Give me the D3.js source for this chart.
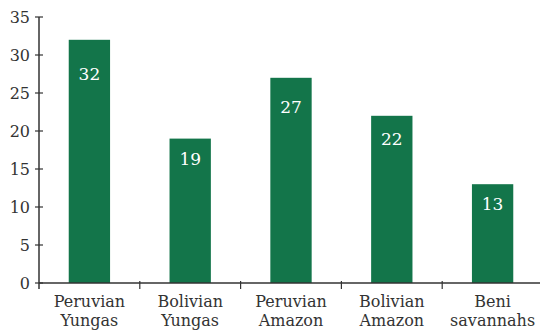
<!DOCTYPE html>
<html>
<head>
<meta charset="utf-8">
<script src="https://cdn.jsdelivr.net/npm/d3@7"></script>
<style>
  html, body { margin: 0; padding: 0; background: #fff; }
  svg { display: block; }
  text { font-family: "DejaVu Serif", serif; fill: #333; }
</style>
</head>
<body>
<svg id="chart" width="540" height="331"></svg>
<script>
// Data
const categories = [["Peruvian", "Yungas"], ["Bolivian", "Yungas"], ["Peruvian", "Amazon"], ["Bolivian", "Amazon"], ["Beni", "savannahs"]];
const values = [32, 19, 27, 22, 13];
const yTicks = [0, 5, 10, 15, 20, 25, 30, 35];

const chartW = 540, chartH = 331;
const plotLeft = 39, plotRight = 543, plotTop = 17, plotBottom = 283;
const barColor = "#13754a";
const axisColor = "#333";

const svg = d3.select("#chart");
const keys = categories.map(c => c.join(" "));

const x = d3.scaleBand().domain(keys).range([plotLeft, plotRight]).paddingInner(0).paddingOuter(0);
const y = d3.scaleLinear().domain([0, 35]).range([plotBottom, plotTop]);
const barW = x.bandwidth() * 0.41;

// Bars
svg.append("g").selectAll("rect")
  .data(values)
  .join("rect")
  .attr("x", (d, i) => x(keys[i]) + (x.bandwidth() - barW) / 2)
  .attr("y", d => y(d))
  .attr("width", barW)
  .attr("height", d => y(0) - y(d))
  .attr("fill", barColor);

// Value labels inside the bars, a little below each bar's top
svg.append("g").selectAll("text")
  .data(values)
  .join("text")
  .attr("x", (d, i) => x(keys[i]) + x.bandwidth() / 2)
  .attr("y", d => y(d) + Math.max(19.5, 0.14 * (y(0) - y(d))))
  .attr("dy", "0.36em")
  .attr("text-anchor", "middle")
  .style("fill", "#fff")
  .style("font-size", "17px")
  .text(d => d);

// Y axis: ticks cross the axis line
const yAxis = svg.append("g").attr("transform", `translate(${plotLeft},0)`);
yAxis.append("line")
  .attr("x1", 0).attr("x2", 0)
  .attr("y1", y(35)).attr("y2", y(0) + 6)
  .attr("stroke", axisColor).attr("stroke-width", 1.5);
yAxis.selectAll(".tick")
  .data(yTicks)
  .join("line")
  .attr("x1", -4).attr("x2", 4)
  .attr("y1", d => y(d)).attr("y2", d => y(d))
  .attr("stroke", axisColor).attr("stroke-width", 1.2);
yAxis.selectAll("text")
  .data(yTicks)
  .join("text")
  .attr("x", -9)
  .attr("y", d => y(d))
  .attr("dy", "0.36em")
  .attr("text-anchor", "end")
  .style("font-size", "16px")
  .text(d => d);

// X axis: baseline with tick marks between categories
const xAxis = svg.append("g").attr("transform", `translate(0,${y(0)})`);
xAxis.append("line")
  .attr("x1", plotLeft).attr("x2", chartW)
  .attr("y1", 0).attr("y2", 0)
  .attr("stroke", axisColor).attr("stroke-width", 1.5);
xAxis.selectAll(".sep")
  .data(keys.slice(1))
  .join("line")
  .attr("x1", d => x(d)).attr("x2", d => x(d))
  .attr("y1", -2).attr("y2", 6)
  .attr("stroke", axisColor).attr("stroke-width", 1.2);

const labels = xAxis.selectAll(".cat")
  .data(categories)
  .join("text")
  .attr("text-anchor", "middle")
  .attr("x", (d, i) => x(keys[i]) + x.bandwidth() / 2)
  .attr("y", 24)
  .style("font-size", "16px");
labels.selectAll("tspan")
  .data(d => d)
  .join("tspan")
  .attr("x", function () { return this.parentNode.getAttribute("x"); })
  .attr("dy", (d, i) => i === 0 ? 0 : "1.18em")
  .text(d => d);
</script>
</body>
</html>
